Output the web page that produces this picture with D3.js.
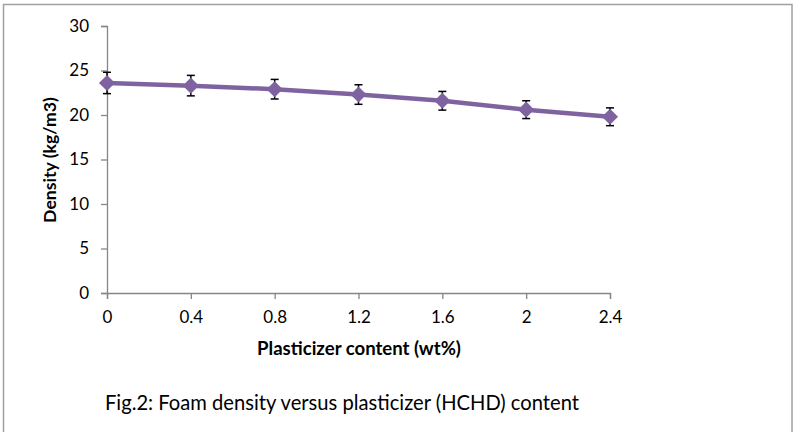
<!DOCTYPE html>
<html>
<head>
<meta charset="utf-8">
<script src="https://cdn.jsdelivr.net/npm/d3@7"></script>
<style>
  body { margin: 0; background: #fff; }
  svg { display: block; font-family: Lato, "Open Sans", sans-serif; }
</style>
</head>
<body>
<div id="chart"></div>
<script>
// plasticizer content (wt%) and measured foam density (kg/m3)
const content = [0, 0.4, 0.8, 1.2, 1.6, 2, 2.4];
const density = [23.6, 23.3, 22.9, 22.3, 21.6, 20.6, 19.8];
const errors = [1.2, 1.15, 1.1, 1.1, 1.05, 1.0, 1.0];
const yTicks = [0, 5, 10, 15, 20, 25, 30];
const xTickLabels = ["0", "0.4", "0.8", "1.2", "1.6", "2", "2.4"];

const width = 800, height = 432;
const margin = {top: 26, right: 190, bottom: 139, left: 107};

const svg = d3.select("#chart").append("svg")
    .attr("width", width)
    .attr("height", height);

// outer frame of the chart area
svg.append("rect")
    .attr("x", 3.5).attr("y", 4.5)
    .attr("width", 788.5).attr("height", 460)
    .attr("fill", "none")
    .attr("stroke", "#a0a0a0")
    .attr("stroke-width", 1.5);

const x = d3.scalePoint()
    .domain(xTickLabels)
    .range([margin.left, width - margin.right]);

const y = d3.scaleLinear()
    .domain([0, 30])
    .range([height - margin.bottom, margin.top]);

const data = content.map((c, i) => ({label: xTickLabels[i], v: density[i], e: errors[i]}));

// axes
const yAxis = svg.append("g")
    .attr("transform", "translate(" + margin.left + ",0)")
    .call(d3.axisLeft(y).tickValues(yTicks).tickSize(6).tickPadding(12));

const xAxis = svg.append("g")
    .attr("transform", "translate(0," + y(0) + ")")
    .call(d3.axisBottom(x).tickSize(6).tickPadding(12));

[yAxis, xAxis].forEach((g) => {
  g.select(".domain").attr("stroke", "#868686").attr("stroke-width", 1.3);
  g.selectAll(".tick line").attr("stroke", "#868686").attr("stroke-width", 1.3);
  g.selectAll(".tick text")
      .attr("fill", "#000")
      .style("font-size", "17px")
      .style("font-family", "Lato, sans-serif");
});

// series line
const line = d3.line()
    .x((d) => x(d.label))
    .y((d) => y(d.v));

svg.append("path")
    .datum(data)
    .attr("d", line)
    .attr("fill", "none")
    .attr("stroke", "#7f63a1")
    .attr("stroke-width", 4.5)
    .attr("stroke-linejoin", "round");

// error bars (drawn under the markers)
const err = svg.selectAll(".err")
    .data(data)
  .enter().append("g")
    .attr("class", "err")
    .attr("stroke", "#000")
    .attr("stroke-width", 1.5);

err.append("line")
    .attr("x1", (d) => x(d.label)).attr("x2", (d) => x(d.label))
    .attr("y1", (d) => y(d.v + d.e)).attr("y2", (d) => y(d.v - d.e));
err.append("line")
    .attr("x1", (d) => x(d.label) - 4).attr("x2", (d) => x(d.label) + 4)
    .attr("y1", (d) => y(d.v + d.e)).attr("y2", (d) => y(d.v + d.e));
err.append("line")
    .attr("x1", (d) => x(d.label) - 4).attr("x2", (d) => x(d.label) + 4)
    .attr("y1", (d) => y(d.v - d.e)).attr("y2", (d) => y(d.v - d.e));

// diamonds
svg.selectAll(".pt")
    .data(data)
  .enter().append("path")
    .attr("class", "pt")
    .attr("d", d3.symbol().type(d3.symbolDiamond2).size(165))
    .attr("transform", (d) => "translate(" + x(d.label) + "," + y(d.v) + ")")
    .attr("fill", "#7f63a1");

// fit a text element to a target width by adjusting font size
function fit(sel, w) {
  const cur = sel.node().getComputedTextLength();
  const fs = parseFloat(sel.style("font-size"));
  sel.style("font-size", (fs * w / cur).toFixed(2) + "px");
}

const xLabel = svg.append("text")
    .attr("x", 359).attr("y", 355)
    .attr("text-anchor", "middle")
    .style("font-weight", "bold")
    .style("font-size", "16px")
    .text("Plasticizer content (wt%)");
fit(xLabel, 204);

const yLabel = svg.append("text")
    .attr("transform", "translate(56,160) rotate(-90)")
    .attr("text-anchor", "middle")
    .style("font-weight", "bold")
    .style("font-size", "16px")
    .text("Density (kg/m3)");
fit(yLabel, 126);

const caption = svg.append("text")
    .attr("x", 105).attr("y", 410)
    .style("font-size", "18px")
    .text("Fig.2: Foam density versus plasticizer (HCHD) content");
fit(caption, 474);
</script>
</body>
</html>
